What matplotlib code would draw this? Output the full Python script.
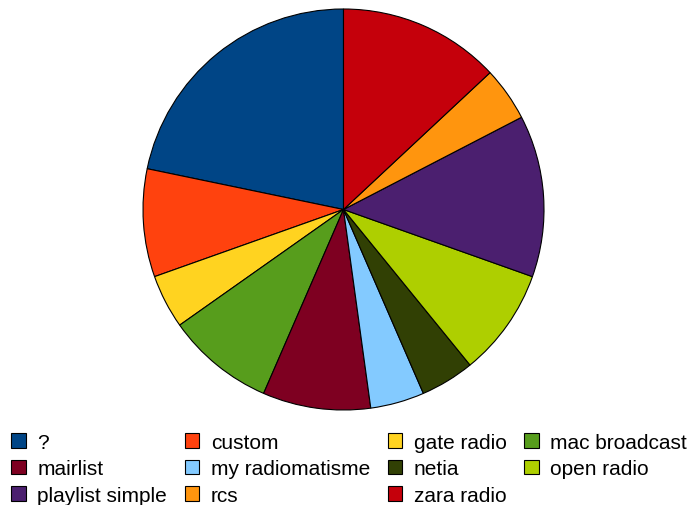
import matplotlib.pyplot as plt
from matplotlib.patches import Patch

plt.rcParams['font.family'] = ['Liberation Sans', 'DejaVu Sans']

labels = ['?', 'custom', 'gate radio', 'mac broadcast', 'mairlist',
          'my radiomatisme', 'netia', 'open radio', 'playlist simple',
          'rcs', 'zara radio']
counts = [5, 2, 1, 2, 2, 1, 1, 2, 3, 1, 3]
colors = ['#004586', '#ff420e', '#ffd320', '#579d1c', '#7e0021',
          '#83caff', '#314004', '#aecf00', '#4b1f6f', '#ff950e', '#c5000b']

fig = plt.figure(figsize=(6.91, 5.06), dpi=100)
ax = fig.add_axes([143 / 691, 95 / 506, 401 / 691, 401 / 506])
ax.pie(counts, colors=colors, startangle=90, counterclock=True,
       wedgeprops={'edgecolor': 'black', 'linewidth': 0.8})
ax.set_xlim(-1.0, 1.0)
ax.set_ylim(-1.0, 1.0)
ax.set_aspect('equal')

# legend is filled row by row in the reference, matplotlib fills columns
ncol = 4
nrow = 3
order = []
for c in range(ncol):
    for r in range(nrow):
        i = r * ncol + c
        if i < len(labels):
            order.append(i)
handles = [Patch(facecolor=colors[i], edgecolor='black', linewidth=0.8)
           for i in order]
fig.legend(handles, [labels[i] for i in order], ncol=ncol,
           loc='lower left', bbox_to_anchor=(4 / 691, -7 / 506),
           frameon=False, fontsize=15, handlelength=0.7, handleheight=0.7,
           handletextpad=0.55, columnspacing=0.85, labelspacing=0.36,
           borderaxespad=0.0, borderpad=0.35)

fig.savefig('out.png', dpi=100)
